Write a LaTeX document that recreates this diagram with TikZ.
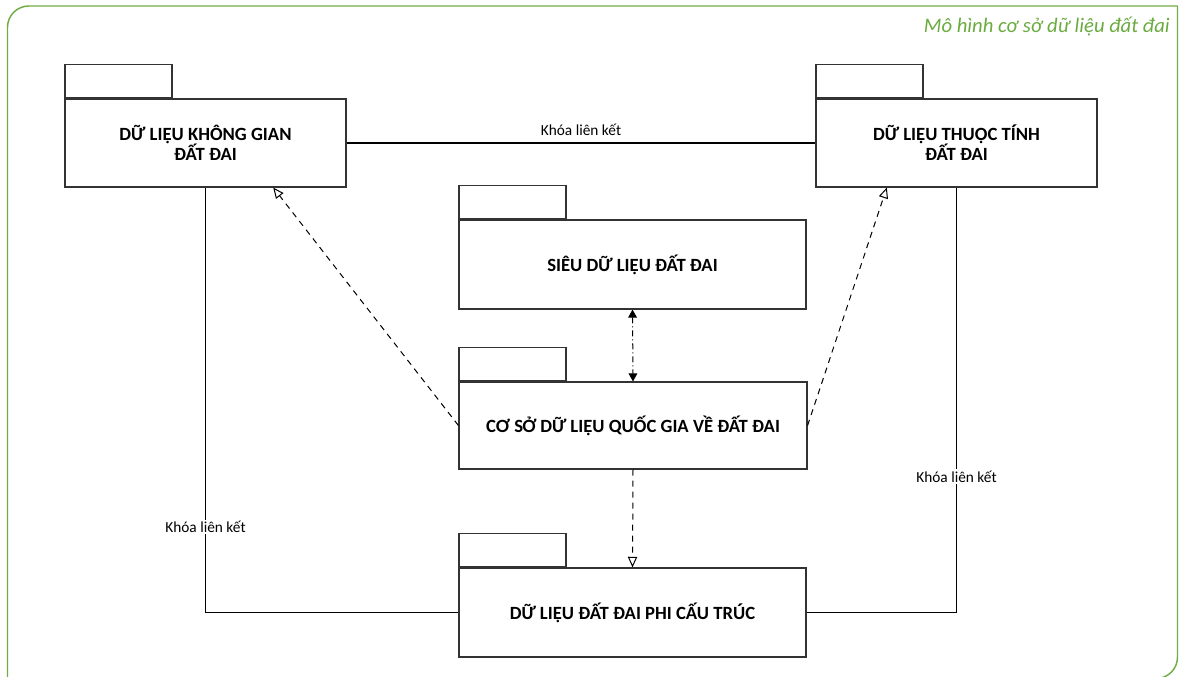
\documentclass[tikz,border=0pt]{standalone}
\usepackage{fontspec}
\setmainfont{Carlito}
\usetikzlibrary{arrows.meta,calc}
\definecolor{frame}{HTML}{70AD47}
\definecolor{ttl}{HTML}{6AAB3F}
\begin{document}
\begin{tikzpicture}[x=0.75pt,y=-0.75pt,
  body/.style={draw=black!80,line width=0.85pt,fill=white,inner sep=0pt,align=center,
    font=\fontsize{14}{15}\selectfont\bfseries,minimum height=66pt},
  tab/.style={draw=black!80,line width=0.85pt,inner sep=0pt,minimum width=80.25pt,
    minimum height=24.75pt,anchor=south west},
  link/.style={line width=0.8pt,black},
  lbl/.style={font=\fontsize{11.5}{13}\selectfont,inner sep=1pt},
  dep/.style={line width=0.75pt,black,dash pattern=on 4.5pt off 3.75pt,
    -{Triangle[open,length=8pt,width=7pt]}},
  dd/.style={line width=0.75pt,black,dash pattern=on 4.5pt off 2.25pt on 0.75pt off 2.25pt,
    {Triangle[length=6pt,width=6.5pt]}-{Triangle[length=6pt,width=6.5pt]}}
]
\useasboundingbox (0,0) rectangle (1179,677);
% frame
\draw[frame,line width=1.1pt,rounded corners=16pt] (7.5,690) |- (1177.5,6);
\draw[frame,line width=1.1pt,rounded corners=16pt] (1177.5,6) |- (1100,678.5);
\node[ttl,anchor=east,font=\fontsize{15.5}{17}\selectfont\itshape,inner sep=0pt] (title) at (1170,27) {Mô hình cơ sở dữ liệu đất đai};
% packages
\node[body,minimum width=210.75pt] (A) at (205.5,143) {DỮ LIỆU KHÔNG GIAN\\ĐẤT ĐAI};
\node[tab] (At) at (A.north west) {};
\node[body,minimum width=210.75pt] (B) at (956.5,143) {DỮ LIỆU THUỘC TÍNH\\ĐẤT ĐAI};
\node[tab] (Bt) at (B.north west) {};
\node[body,minimum width=260.25pt,minimum height=66.75pt] (S) at (632.5,264.5) {SIÊU DỮ LIỆU ĐẤT ĐAI};
\node[tab] (St) at (S.north west) {};
\node[body,minimum width=261pt,minimum height=65.25pt] (C) at (633,425.5) {CƠ SỞ DỮ LIỆU QUỐC GIA VỀ ĐẤT ĐAI};
\node[tab] (Ct) at (C.north west) {};
\node[body,minimum width=260.25pt,minimum height=66.75pt] (P) at (632.5,612.5) {DỮ LIỆU ĐẤT ĐAI PHI CẤU TRÚC};
\node[tab] (Pt) at (P.north west) {};
% links
\draw[link] (A.east) -- node[lbl,above=4.5pt] (l1) {Khóa liên kết} (B.west);
\draw[link] (A.south) |- node[lbl,pos=0.399,fill=white] (l2) {Khóa liên kết} (P.west);
\draw[link] (B.south) |- node[lbl,pos=0.34,fill=white] (l3) {Khóa liên kết} (P.east);
% dependencies
\coordinate (Ain) at ($(A.south west)!0.74!(A.south east)$);
\coordinate (Bin) at ($(B.south west)!0.253!(B.south east)$);
\draw[dep] (C.west) -- (Ain);
\draw[dep] (C.east) -- (Bin);
\draw[dep] (C.south) -- (P.north);
\draw[dd] (S.south) -- (C.north);
\end{tikzpicture}
\end{document}
